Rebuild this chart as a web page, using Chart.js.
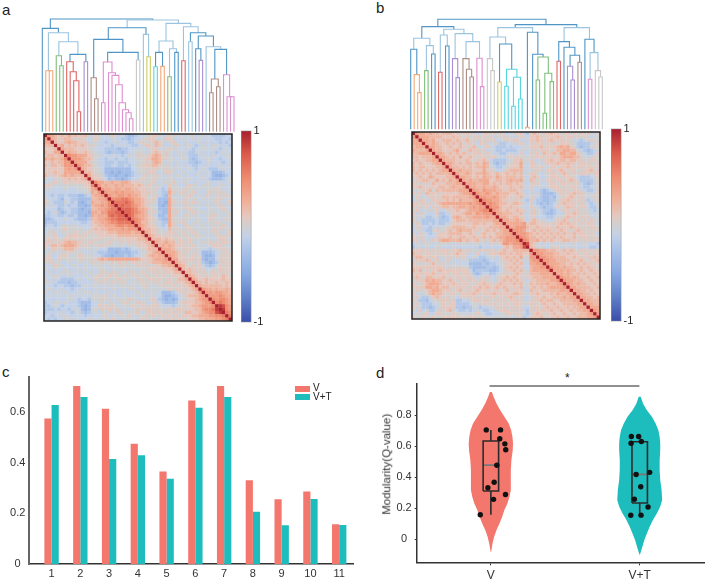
<!DOCTYPE html>
<html>
<head>
<meta charset="utf-8">
<title>Modularity</title>
<script src="https://cdn.jsdelivr.net/npm/chart.js@4/dist/chart.umd.min.js"></script>
<style>
  html, body { margin: 0; background: #fff; }
  #page { position: relative; width: 708px; height: 583px; overflow: hidden; font-family: "Liberation Sans", Arial, sans-serif; color: #222; }
  #page canvas { position: absolute; }
  .txt { position: absolute; white-space: nowrap; line-height: 1; }
  .panel { font-size: 15px; }
  .swatch { position: absolute; width: 15px; height: 5.5px; }
</style>
</head>
<body>
<div id="page">
  <div class="txt panel" style="left:2px;top:2px">a</div>
  <div class="txt panel" style="left:376px;top:0px">b</div>
  <div class="txt panel" style="left:2px;top:364px">c</div>
  <div class="txt panel" style="left:376px;top:365px">d</div>
  <div class="txt" style="left:565px;top:372px;font-size:12px">*</div>
  <div class="txt" style="left:336.7px;top:458.5px;width:100px;text-align:center;font-size:11.5px;color:#333;transform:rotate(-90deg);z-index:2">Modularity(Q-value)</div>
</div>
<script>
// bar heights, one per community
const categories = ["1", "2", "3", "4", "5", "6", "7", "8", "9", "10", "11"];
const groupNames = ["V", "V+T"];
const seriesV = [0.576, 0.704, 0.614, 0.476, 0.366, 0.647, 0.704, 0.331, 0.256, 0.287, 0.157];
const seriesVT = [0.629, 0.661, 0.416, 0.43, 0.337, 0.618, 0.661, 0.207, 0.153, 0.257, 0.154];
const barTicks = [0, 0.2, 0.4, 0.6];
const violinTicks = [0, 0.2, 0.4, 0.6, 0.8];

// violin outlines: density half-width at each level
const levelsV = [0.948, 0.918, 0.875, 0.832, 0.789, 0.746, 0.703, 0.66, 0.617, 0.574, 0.51, 0.445, 0.381, 0.316, 0.273, 0.23, 0.187, 0.144, 0.101, 0.058, 0.015, -0.028, -0.082];
const densityV = [0.007, 0.018, 0.038, 0.062, 0.091, 0.12, 0.136, 0.145, 0.149, 0.147, 0.138, 0.134, 0.134, 0.134, 0.125, 0.111, 0.091, 0.076, 0.058, 0.038, 0.022, 0.011, 0.002];
const levelsVT = [0.918, 0.875, 0.832, 0.789, 0.746, 0.703, 0.66, 0.617, 0.574, 0.51, 0.445, 0.381, 0.316, 0.252, 0.252, 0.21, 0.166, 0.123, 0.08, 0.037, -0.006, -0.049, -0.099];
const densityVT = [0.007, 0.022, 0.047, 0.082, 0.107, 0.125, 0.134, 0.138, 0.138, 0.134, 0.134, 0.138, 0.147, 0.151, 0.151, 0.138, 0.116, 0.089, 0.067, 0.049, 0.031, 0.018, 0.002];

// scatter offsets of the dots, same order as the bars
const jitterV = [0.1, -0.031, 0.094, 0.04, 0.022, 0.06, 0.065, -0.02, 0.018, 0.098, -0.071];
const jitterVT = [0.011, -0.056, -0.024, 0.067, 0.007, -0.058, -0.007, 0.056, -0.06, -0.036, 0.009];

// q1, median, q3, lower whisker, upper whisker
const boxV = [0.31, 0.477, 0.632, 0.157, 0.703];
const boxVT = [0.232, 0.417, 0.628, 0.157, 0.628];
const sigBarX = [0.991, 1.998];
const sigBarY = 0.987;

// dendrograms, node = [height, cluster, left, right], 0 = leaf
const treeA = [112.7, 0,
  [103.3, 0, 0,
    [99, 1,
      [61, 2, 0, [61, 2, 0, 0]],
      [90, 1,
        [76, 3, 0, [66, 3, 0, 0]],
        [77.3, 0,
          [70, 4, 0, [60, 4, 0, [51, 4, 0, [20, 4, 0, 0]]]],
          [70, 5, 0, 0]]]]],
  [111.7, 1,
    [104, 0,
      [92.3, 0,
        [54, 6, 0, [33, 6, 0, 0]],
        [79.3, 0,
          [69.7, 7,
            [29, 7, 0, 0],
            [59, 7, 0, [56.3, 7, 0, [47, 7, 0, [29, 7, 0, [22, 7, 0, [19, 7, 0, [13, 7, 0, 0]]]]]]]],
          [71.7, 8, 0, 0]]],
      [97.3, 1, 0, [75, 9, 0, 0]]],
    [108.3, 1,
      [90.7, 1,
        [79.3, 0, [65, 10, 0, 0], [65.3, 2, 0, 0]],
        [83, 1, [55, 3, 0, 0], [79.3, 0, 0, 0]]],
      [105, 1,
        [71, 4, 0, 0],
        [99, 0,
          [90, 1, 0, 0],
          [95.7, 0,
            [83, 0, 0, [71.3, 5, 0, 0]],
            [85, 1, 0,
              [82.3, 0,
                [52.7, 6, [39, 6, 0, 0], [45, 6, 0, 0]],
                [57, 7, 0, [35, 7, 0, [35, 7, 0, 0]]]]]]]]]]];

const treeB = [110, 0,
  [102.7, 0,
    [91, 1,
      [80, 0, 0, [54.7, 2, 0, [36.7, 2, 0, 0]]],
      [83.7, 1, [58.7, 3, 0, 0], [75.3, 0, 0, 0]]],
    [100, 1,
      [94.3, 1, [57, 4, 0, 0], [83.3, 0, 0, 0]],
      [95.7, 1,
        [70.7, 5, 0, [51.7, 5, 0, 0]],
        [87.7, 1,
          [70.7, 6, 0, [60, 6, 0, [52.3, 6, 0, 0]]],
          [71, 7, 0, [42.7, 7, 0, 0]]]]]],
  [104.7, 0,
    [101.7, 1,
      [92.3, 1,
        [70.7, 8, 0, [58.7, 8, 0, 0]],
        [85.3, 0,
          [47.3, 9, 0, 0],
          [60, 10, [43, 10, 0, 0], [52, 10, [23, 10, 0, 0], [30.3, 10, 0, 0]]]]],
      [97, 0,
        [2, 2, 0, 0],
        [75, 0, 0,
          [72.3, 3,
            [49.3, 3, 0, 0],
            [56, 3, [16, 3, 0, 0], [47.7, 3, 0, 0]]]]]],
    [101.7, 1,
      [87.7, 0,
        [68, 4, 0, 0],
        [82, 0, 0,
          [74, 0,
            [63, 5, 0, [49.3, 5, 0, 0]],
            [67, 6, 0, 0]]]],
      [90, 0, 0,
        [76.7, 1,
          [50, 7, 0, 0],
          [58.7, 8, 0, [52.3, 8, 0, 0]]]]]]];

// correlation x10, upper triangle without the diagonal, one row per community
const upperA = [
  [4,3,2,1,2,1,3,1,2,1,1,2,0,-1,1,0,-1,-1,0,1,0,-1,-1,-2,-3,-3,-2,-1,-1,0,0,1,1,0,-1,0,1,0,-1,0,-1,-1,0,0,-1,-1,0,-1,-1,-2,-2,-2,-2,-1,-1],
  [3,2,1,1,2,2,1,0,1,1,0,-1,0,1,0,-1,-1,-1,0,-1,-1,-2,-2,-3,-2,-1,-1,0,0,1,1,0,-1,0,1,1,0,-1,-1,0,-1,-1,0,-1,0,-1,-1,-1,-1,-2,-2,-1,-1,-2],
  [2,1,1,2,3,2,2,1,1,1,-1,0,0,-1,-1,-2,-1,-1,0,-1,-1,-1,-2,-2,-1,0,1,0,0,1,2,1,0,-1,0,1,0,-1,-1,0,-1,-1,-1,0,-1,0,-1,-1,-1,-2,-1,-2,-1],
  [2,3,1,2,1,2,1,2,1,0,1,0,-1,-1,-1,-1,-2,-1,-1,0,-1,-1,-2,-2,-1,0,1,1,0,2,1,0,-1,-1,0,1,0,-1,0,0,-1,-2,-1,0,-1,-1,0,0,-1,-1,-1,-2],
  [3,2,2,2,1,1,1,1,0,0,-1,-1,-1,-2,-2,-2,-2,-3,-2,-2,-1,-1,-1,0,-1,-1,0,1,1,0,-1,0,1,0,0,-1,-1,0,-1,-2,-1,-1,0,0,-1,0,-1,-2,-1,0,-1],
  [2,3,2,2,1,1,2,1,0,0,-1,-1,-2,-3,-2,-2,-2,-3,-2,-1,-1,0,0,0,-1,0,1,2,1,0,1,0,-1,0,-1,0,-1,-2,-2,-1,0,-1,-1,-1,-1,-2,-1,0,-1,-1],
  [5,4,4,3,3,3,1,1,0,0,-1,-1,-1,0,-1,-1,-2,-1,0,-1,0,1,0,0,1,2,3,2,0,1,0,-1,-1,0,0,-1,-2,-2,-2,-1,0,-1,-1,0,-1,-1,-1,0,0],
  [4,4,4,3,2,2,1,0,-1,-1,-2,-1,-1,-2,-1,-1,-2,-1,-1,0,0,0,1,1,3,3,2,1,0,0,0,-1,-1,0,0,-2,-3,-2,-1,-1,0,0,-1,-1,-2,-1,-1,0],
  [4,3,3,3,1,0,0,-1,-1,-2,-2,-2,-1,-2,-2,-2,-1,-1,-1,0,0,1,0,2,3,2,0,-1,0,-1,0,-1,-1,-1,-2,-2,-3,-2,-1,-1,0,-1,-1,-1,-2,-1,-1],
  [4,3,2,2,1,0,-1,-1,-2,-2,-1,-1,-2,-2,-1,-2,-1,0,0,1,1,1,2,2,1,0,0,0,-1,0,-1,0,-1,-1,-2,-2,-1,-1,0,-1,-1,-1,0,-1,-1,0],
  [3,2,1,1,0,0,-1,-3,-3,-3,-3,-3,-3,-3,-3,-1,-1,0,0,1,0,1,1,0,0,1,0,0,-1,0,-1,-1,0,-1,-2,-1,0,-1,-2,-2,-2,-1,0,-1,-1],
  [2,2,1,0,0,-1,-3,-3,-4,-3,-4,-3,-3,-3,-2,-1,0,0,0,1,1,0,-1,0,1,1,0,-1,-1,0,-1,-1,-1,-1,0,-1,0,-1,-3,-3,-3,-2,-1,-1],
  [3,1,1,0,0,-2,-3,-3,-4,-3,-3,-4,-3,-2,-1,-1,0,1,0,0,1,0,-1,0,0,-1,0,0,-1,0,-1,-1,0,-1,0,-1,-1,-3,-4,-4,-3,-2,-1],
  [2,1,1,0,-1,-3,-2,-3,-3,-4,-3,-2,-1,-1,0,1,0,0,1,0,0,-1,0,0,0,-1,-1,0,-1,0,-1,-1,-1,0,-1,-2,-3,-3,-3,-2,-1,0],
  [5,3,3,2,2,3,2,2,3,3,2,1,1,1,0,0,0,1,0,-1,0,0,0,1,0,-1,0,0,-1,-1,0,-1,-1,0,0,-1,-1,0,-1,-1,0],
  [4,2,3,2,2,3,2,3,2,2,2,1,2,1,0,1,0,0,0,-1,-1,1,0,0,-1,-1,0,1,0,0,-1,0,0,0,-1,-1,0,0,-1,-1],
  [4,3,3,2,3,3,2,3,3,2,2,1,1,1,0,0,1,-1,-2,-1,2,0,0,0,0,1,0,0,-1,0,-1,0,0,0,1,0,-1,-1,0],
  [4,3,3,4,3,4,3,3,3,2,2,1,1,1,0,0,-1,-2,-2,3,1,0,0,1,0,0,1,0,-1,-1,0,1,0,0,1,0,0,-1],
  [4,3,3,4,4,3,4,3,3,2,1,1,0,0,1,-1,-2,-3,2,0,-1,0,0,0,1,0,-1,0,-1,1,0,-1,1,0,0,1,0],
  [5,5,5,6,6,5,4,3,3,2,1,0,1,0,-3,-3,-3,3,0,0,-1,0,1,0,0,0,-1,0,-1,0,0,0,1,0,-1,0],
  [6,6,6,7,6,5,3,3,2,1,1,0,0,-3,-3,-4,3,1,0,0,1,0,0,1,0,0,-1,0,-1,0,1,0,-1,0,1],
  [6,7,6,6,5,4,3,2,1,0,0,-1,-3,-4,-3,3,0,0,-1,0,1,0,0,-1,0,-1,0,0,-1,0,1,0,-1,0],
  [7,7,7,6,5,3,3,2,1,0,0,-3,-3,-3,3,1,0,0,0,0,1,0,0,-1,-1,-1,0,0,-1,0,1,0,-1],
  [7,7,6,5,4,3,2,0,1,0,-2,-3,-3,3,0,1,0,-1,0,0,1,0,0,0,-1,0,0,0,-1,0,0,0],
  [7,6,4,3,3,2,1,0,-1,-3,-3,-2,3,1,0,-1,0,1,0,0,0,-1,-1,0,0,1,0,0,-1,0,0],
  [6,5,4,3,2,1,1,0,-2,-3,-3,3,0,0,0,0,0,0,-1,0,0,-1,-1,1,0,0,-1,0,1,0],
  [5,4,2,2,1,0,0,-1,-2,-2,3,1,0,0,1,0,-1,0,0,0,-1,0,0,0,1,0,0,-1,0],
  [4,3,2,1,1,0,-1,-2,-1,3,1,0,-1,0,1,0,0,-1,0,0,-1,0,0,0,0,1,0,-1],
  [3,2,2,1,1,0,-1,-1,2,0,1,0,0,0,1,0,0,-1,0,0,-1,1,0,1,0,0,0],
  [3,2,1,1,0,0,0,1,1,0,0,1,0,0,1,0,0,-1,0,0,0,1,0,-1,0,1],
  [3,2,1,1,0,1,1,0,1,0,0,1,0,0,1,0,0,-1,-1,0,0,1,0,1,0],
  [2,2,2,1,2,1,1,0,1,0,0,1,0,0,0,-1,0,0,-1,0,1,1,0,0],
  [3,2,2,3,2,2,0,1,1,0,1,0,-1,0,0,0,1,0,1,0,1,1,0],
  [2,3,2,3,2,1,1,0,1,0,1,0,-1,0,-1,0,1,1,1,0,0,-1],
  [3,3,3,2,1,0,1,0,1,0,0,0,-1,-1,-2,-1,0,0,1,0,0],
  [3,3,3,2,1,0,1,0,0,1,-1,-3,-3,-3,-2,-1,0,0,1,0],
  [4,3,2,1,1,0,0,1,0,0,-3,-4,-4,-3,-1,0,1,0,1],
  [3,3,1,1,0,1,1,0,1,-3,-4,-3,-3,-1,1,0,1,0],
  [3,2,1,1,0,0,1,0,-2,-3,-4,-3,-2,0,1,0,1],
  [3,2,1,0,1,0,1,-1,-2,-3,-2,-1,1,0,1,0],
  [2,1,2,1,0,1,0,-1,-1,0,0,1,1,0,1],
  [2,2,1,1,0,1,0,0,1,0,1,0,1,0],
  [3,2,1,1,0,1,0,1,1,0,2,1,0],
  [3,2,1,1,2,1,1,1,1,2,1,1],
  [3,2,1,2,1,1,2,1,1,2,1],
  [3,2,2,2,2,2,2,1,2,1],
  [4,3,3,2,3,2,2,3,2],
  [4,4,3,4,4,3,3,2],
  [4,4,4,5,4,3,3],
  [5,4,5,5,4,3],
  [5,6,5,4,3],
  [9,8,5,4],
  [9,5,4],
  [6,5],
  [6]
];

const upperB = [
  [4,3,3,2,3,2,2,1,2,2,2,1,1,0,1,1,0,1,-1,-1,1,1,0,1,0,1,0,-1,-1,0,1,1,-1,-2,1,2,1,0,1,1,2,1,1,0,1,1,0,1,0,1,0,1,0,-1,1],
  [3,3,3,2,2,2,2,1,1,1,2,1,1,0,1,0,0,1,0,1,0,1,-1,0,0,1,0,0,-1,0,1,0,-1,1,1,2,1,0,1,1,1,2,1,0,1,1,0,1,0,1,0,-1,0,0],
  [3,3,2,3,1,1,2,2,2,1,2,1,1,2,0,1,0,1,0,1,0,1,-1,-1,0,1,0,1,1,-1,-1,0,1,1,2,1,0,1,2,1,1,1,0,1,0,-1,-1,-2,-1,0,1,0],
  [3,2,3,2,1,1,2,1,2,1,2,0,1,1,0,-1,1,1,0,-1,0,0,-2,-2,-1,-1,0,0,1,0,-1,1,0,1,1,0,1,0,1,0,1,1,1,0,0,-2,-2,-2,-2,-1,0,1],
  [3,3,2,2,1,1,2,1,1,2,1,0,1,2,0,-1,0,1,0,-1,-2,-2,-2,-1,-2,-1,-1,-1,0,0,1,1,1,2,0,1,1,1,2,3,2,3,1,0,-2,-3,-2,-2,0,1],
  [3,2,2,1,1,1,2,3,1,0,1,2,1,1,0,1,-1,0,-1,-2,-2,-1,-2,-2,-2,-1,0,0,-1,0,1,0,1,1,1,0,1,2,2,3,3,2,2,0,-1,-2,-3,-2,-1,0],
  [3,3,2,1,2,1,2,1,2,1,0,1,1,1,0,1,0,-1,-1,-2,-2,-1,0,-1,-1,1,-1,-1,1,0,1,0,2,1,1,2,1,3,3,2,3,3,1,0,-1,-2,-2,-1,1],
  [3,3,2,1,2,1,3,1,1,2,1,0,1,1,0,1,1,0,-1,-1,0,1,0,1,0,0,0,0,1,1,1,0,1,1,0,1,2,3,3,3,2,2,0,0,-1,0,1,0],
  [3,2,2,2,1,1,1,2,1,0,1,1,2,1,-1,-2,-2,-2,-2,-1,0,1,1,2,0,0,1,0,-1,0,1,1,2,1,1,2,2,1,2,2,1,1,0,0,1,1,0],
  [3,3,2,1,2,1,2,2,1,2,1,3,2,-1,-2,-3,-2,-2,0,0,1,1,3,0,-1,1,1,0,-1,0,1,1,1,2,1,1,2,1,1,0,1,1,1,0,0,1],
  [3,2,2,1,2,1,2,1,2,2,3,2,0,-1,-2,-2,-1,0,1,1,1,3,0,-1,1,1,0,1,0,-1,1,1,0,1,1,2,1,0,1,1,0,1,1,0,1],
  [3,2,3,2,2,2,1,1,1,3,1,1,0,-1,-1,0,1,2,2,2,2,0,-1,0,0,1,0,-1,1,1,0,1,2,1,0,1,1,0,0,1,1,2,0,1],
  [3,2,2,3,2,1,2,2,3,2,1,1,2,1,1,2,1,2,1,2,-1,0,1,1,0,-1,0,0,1,1,0,1,2,1,0,1,0,1,1,1,0,1,1],
  [3,3,2,2,1,2,1,3,2,2,1,3,2,1,2,2,2,1,2,0,-1,1,2,1,-1,-1,0,1,1,1,0,1,1,1,0,-1,-2,-2,-2,-1,0,1],
  [3,2,3,2,2,3,3,3,1,1,2,2,1,2,3,2,2,3,0,-1,2,1,0,0,-1,1,1,0,1,1,0,1,2,1,0,-2,-2,-2,-2,0,0],
  [3,3,3,2,2,3,3,1,2,1,2,1,2,2,1,2,1,0,-1,0,1,1,-1,-1,0,1,1,0,1,1,1,0,1,1,-1,-2,-3,-2,-1,1],
  [3,3,2,2,3,2,2,3,2,1,1,1,2,1,1,2,0,-1,1,0,-1,0,-1,0,1,1,1,0,1,0,1,1,0,-1,-2,-2,-1,0,0],
  [4,3,2,4,3,3,3,2,2,1,1,2,2,1,1,-1,-1,0,-1,-1,-2,-3,-2,-1,0,1,1,0,1,0,1,1,0,-1,-2,-2,-1,1],
  [4,3,3,4,3,2,3,2,2,2,1,1,2,1,0,-1,0,-1,0,-2,-3,-3,-3,-2,0,1,0,1,1,2,1,1,0,0,-1,0,1],
  [4,4,3,3,4,3,2,2,1,1,0,1,2,0,-1,0,1,-1,-2,-3,-3,-2,-3,-1,0,1,1,2,1,0,1,0,-1,0,1,0],
  [5,4,4,3,3,2,1,1,0,1,1,0,-1,-2,1,-1,-2,-2,-3,-3,-2,-2,0,1,1,2,1,0,1,0,1,-2,-1,0,1],
  [4,5,4,3,2,2,1,1,2,2,1,0,-1,0,-1,-2,-3,-2,-3,-2,-1,0,1,2,1,1,1,0,1,0,-1,-2,-1,0],
  [5,4,4,2,1,1,2,1,1,0,-1,-1,1,0,-1,-2,-3,-2,-2,-1,1,0,1,2,1,1,0,1,1,-1,-2,-2,0],
  [4,3,2,1,2,1,1,2,1,1,-1,0,1,0,-1,-2,-2,-3,-2,-1,0,1,1,0,1,1,0,0,0,-1,-2,-1],
  [3,3,2,2,2,1,1,2,0,-1,1,1,0,-1,-2,-3,-3,-2,-1,-1,0,1,1,2,1,0,1,0,-1,-1,0],
  [3,3,2,1,2,2,1,0,-1,0,1,-1,-1,-1,-2,-2,-1,0,0,1,2,1,1,0,1,0,1,0,-1,0],
  [3,3,2,2,3,2,1,-1,1,2,1,0,0,-1,-1,0,1,1,2,1,0,1,1,0,1,0,1,0,0],
  [3,3,3,3,3,4,1,2,2,1,1,0,1,0,1,1,2,1,2,1,1,0,1,0,1,1,0,-1],
  [3,3,4,4,4,2,1,1,2,1,1,1,1,0,2,1,1,1,2,1,1,0,1,0,1,1,0],
  [4,4,4,3,1,1,2,1,2,1,2,1,1,1,2,1,1,0,1,2,1,0,1,0,1,0],
  [4,4,4,3,2,1,2,1,2,1,2,1,2,1,2,1,1,2,1,1,1,0,1,0,-1],
  [5,4,3,2,2,1,2,1,2,1,2,1,2,1,1,1,2,0,1,1,1,0,1,0],
  [5,4,2,2,3,1,2,1,2,1,1,1,2,2,1,1,1,0,1,0,1,0,1],
  [8,2,1,0,-1,0,-1,0,0,-1,0,0,-1,0,0,-1,0,0,-1,-1,-1,-2],
  [2,1,0,0,-1,-1,0,0,1,-1,0,0,-1,0,-1,-1,0,-1,-2,-2,-1],
  [4,4,3,3,2,2,2,1,1,2,1,2,1,0,1,1,0,1,0,1],
  [4,4,3,3,3,2,2,1,1,2,1,1,1,0,1,1,0,1,1],
  [4,4,3,3,2,2,2,2,1,1,2,1,1,0,1,1,2,1],
  [4,4,3,3,2,2,2,2,1,1,1,2,1,0,1,1,2],
  [4,3,3,3,2,2,1,2,1,2,1,2,1,1,0,1],
  [4,3,3,2,3,2,2,1,1,2,1,2,1,1,0],
  [3,3,3,2,3,2,2,1,2,1,1,2,1,1],
  [3,3,2,3,2,1,2,1,2,1,1,2,1],
  [4,3,3,2,3,2,1,1,2,1,1,2],
  [4,3,3,2,2,2,1,1,2,1,1],
  [4,3,2,3,2,2,1,1,2,1],
  [3,3,2,2,2,2,1,1,2],
  [3,3,2,2,1,2,1,1],
  [3,3,2,2,1,2,1],
  [3,3,2,2,1,2],
  [3,3,2,2,2],
  [3,3,2,2],
  [3,3,3],
  [4,3],
  [4]
];

// colour key of the heatmaps
const keyValues = [-1, -0.75, -0.5, -0.25, -0.1, 0, 0.1, 0.25, 0.5, 0.75, 1];
const keyColors = [[58, 77, 168], [95, 127, 200], [135, 168, 226], [170, 194, 232], [196, 209, 230], [208, 208, 208], [228, 200, 192], [240, 178, 155], [238, 140, 112], [220, 91, 74], [166, 32, 46]];
const clusterColors = ["#4f96c6", "#9bc4e0", "#f5a878", "#7fbf7b", "#e06666", "#a98fd0", "#ab8e85", "#dd8fcf", "#c8c8c8", "#cccc66", "#55d5dd"];

const colorV = "#f4776e";
const colorVT = "#1dbcbd";
const leafCount = 56;

Chart.defaults.font.family = '"Liberation Sans", Arial, sans-serif';
Chart.defaults.animation = false;
Chart.defaults.responsive = false;
Chart.defaults.plugins.legend.display = false;
Chart.defaults.plugins.tooltip.enabled = false;

const page = document.getElementById("page");

function addCanvas(left, top, width, height) {
  const c = document.createElement("canvas");
  c.width = width;
  c.height = height;
  c.style.left = left + "px";
  c.style.top = top + "px";
  page.appendChild(c);
  return c.getContext("2d");
}

function addText(text, left, top, size) {
  const d = document.createElement("div");
  d.className = "txt";
  d.textContent = text;
  d.style.left = left + "px";
  d.style.top = top + "px";
  d.style.fontSize = size + "px";
  page.appendChild(d);
}

//walks the tree, every leaf takes the next slot and a parent sits between its children
function treeLinks(tree) {
  let next = 0;
  const links = [];
  function walk(node) {
    if (node === 0) return { x: next++, y: 0 };
    const [h, cluster, left, right] = node;
    const a = walk(left);
    const b = walk(right);
    links.push({ cluster, points: [{ x: a.x, y: a.y }, { x: a.x, y: h }, { x: b.x, y: h }, { x: b.x, y: b.y }] });
    return { x: (a.x + b.x) / 2, y: h };
  }
  walk(tree);
  return links;
}

function drawTree(tree, left, top, xRange, yRange) {
  new Chart(addCanvas(left, top, 199, 120), {
    type: "scatter",
    data: {
      datasets: treeLinks(tree).map((link) => ({
        data: link.points,
        showLine: true,
        pointRadius: 0,
        borderWidth: 1.1,
        borderColor: clusterColors[link.cluster],
        clip: false,
      })),
    },
    options: {
      scales: {
        x: { display: false, min: xRange[0], max: xRange[1] },
        y: { display: false, min: yRange[0], max: yRange[1] },
      },
    },
  });
}

function keyColor(v) {
  let i = 0;
  while (i < keyValues.length - 2 && v > keyValues[i + 1]) i++;
  const t = (v - keyValues[i]) / (keyValues[i + 1] - keyValues[i]);
  const rgb = keyColors[i].map((c, n) => Math.round(c + (keyColors[i + 1][n] - c) * t));
  return "rgb(" + rgb.join(",") + ")";
}

const boxFrame = {
  id: "boxFrame",
  afterDraw(chart) {
    const { ctx, chartArea: a } = chart;
    ctx.save();
    ctx.strokeStyle = "#222";
    ctx.lineWidth = 1.5;
    ctx.strokeRect(a.left, a.top, a.right - a.left, a.bottom - a.top);
    ctx.restore();
  },
};

function drawHeatmap(upper, left, top, width, height) {
  const cells = [];
  for (let row = 0; row < leafCount; row++) {
    for (let col = 0; col < leafCount; col++) {
      const a = Math.min(row, col);
      const b = Math.max(row, col);
      const v = a === b ? 1 : (upper[a][b - a - 1] ?? 0) / 10;
      cells.push({ x: col, y: row, v });
    }
  }
  const size = width / leafCount;
  new Chart(addCanvas(left - 2, top - 2, width + 4, height + 4), {
    type: "scatter",
    data: {
      datasets: [
        {
          data: cells,
          pointStyle: "rect",
          pointRadius: size / Math.SQRT2 + 0.15,
          pointBorderWidth: 0,
          backgroundColor: cells.map((c) => keyColor(c.v)),
        },
      ],
    },
    options: {
      layout: { padding: 2 },
      scales: {
        x: { display: false, min: -0.5, max: leafCount - 0.5 },
        y: { display: false, reverse: true, min: -0.5, max: leafCount - 0.5 },
      },
    },
    plugins: [boxFrame],
  });
}

function drawColorKey(left, top, height) {
  new Chart(addCanvas(left, top - 8, 30, height + 16), {
    type: "bar",
    data: {
      labels: [""],
      datasets: [
        {
          data: [[keyValues[0], keyValues[keyValues.length - 1]]],
          barPercentage: 1,
          categoryPercentage: 1,
          borderWidth: 1,
          borderColor: "#8a8a8a",
          borderSkipped: false,
          backgroundColor(context) {
            const a = context.chart.chartArea;
            if (!a) return "#ccc";
            const g = context.chart.ctx.createLinearGradient(0, a.bottom, 0, a.top);
            keyValues.forEach((v, i) => {
              g.addColorStop((v + 1) / 2, "rgb(" + keyColors[i].join(",") + ")");
            });
            return g;
          },
        },
      ],
    },
    options: {
      layout: { padding: { top: 8, bottom: 8, left: 1, right: 0 } },
      scales: {
        x: { display: false },
        y: {
          position: "right",
          min: -1,
          max: 1,
          afterBuildTicks(scale) {
            scale.ticks = [{ value: -1 }, { value: 1 }];
          },
          afterFit(scale) {
            scale.width = 18.5;
          },
          grid: { display: false, drawTicks: false },
          border: { display: false },
          ticks: { padding: 2, color: "#222", font: { size: 11 } },
        },
      },
    },
  });
}

//heatmaps with their dendrograms and colour keys
drawTree(treeA, 39, 12, [-0.947, 56.15], [-0.3, 119.7]);
drawTree(treeB, 407, 10, [-1.06, 56.06], [-0.7, 119.3]);
drawHeatmap(upperA, 42, 132, 192, 191);
drawHeatmap(upperB, 410, 130, 192, 191);
drawColorKey(240, 130, 193);
drawColorKey(610, 128, 194);

//bar chart
new Chart(addCanvas(0, 365, 360, 218), {
  type: "bar",
  data: {
    datasets: [
      { label: groupNames[0], data: seriesV.map((v, i) => ({ x: i + 1, y: v })), backgroundColor: colorV },
      { label: groupNames[1], data: seriesVT.map((v, i) => ({ x: i + 1, y: v })), backgroundColor: colorVT },
    ],
  },
  options: {
    barPercentage: 1,
    categoryPercentage: 0.5,
    layout: { padding: { top: 12, right: 7, left: 0, bottom: 0 } },
    scales: {
      x: {
        type: "linear",
        offset: false,
        min: 0.226,
        max: 11.48,
        afterBuildTicks(scale) {
          scale.ticks = categories.map((c, i) => ({ value: i + 1 }));
        },
        afterFit(scale) {
          scale.height = 19;
        },
        grid: { display: false, drawTicks: false },
        border: { color: "#333", width: 1.5 },
        ticks: {
          padding: 3,
          color: "#333",
          font: { size: 11 },
          autoSkip: false,
          maxRotation: 0,
          callback: (v) => categories[v - 1],
        },
      },
      y: {
        min: 0,
        max: 0.74,
        afterBuildTicks(scale) {
          scale.ticks = barTicks.map((value) => ({ value }));
        },
        afterFit(scale) {
          scale.width = 29.3;
        },
        grid: { display: false, drawTicks: false },
        border: { color: "#666", width: 2 },
        ticks: { padding: 4, crossAlign: "center", color: "#333", font: { size: 11 }, callback: (v) => String(v) },
      },
    },
  },
});

//legend of the bar chart
[colorV, colorVT].forEach((color, i) => {
  const s = document.createElement("div");
  s.className = "swatch";
  s.style.left = "295px";
  s.style.top = 386 + i * 8 + "px";
  s.style.background = color;
  page.appendChild(s);
  addText(groupNames[i], 313, 383 + i * 9, 10);
});

//violin outline: down the right side, back up the left side
function violinOutline(center, levels, density) {
  const right = levels.map((y, i) => ({ x: center + density[i], y }));
  const left = levels.map((y, i) => ({ x: center - density[i], y })).reverse();
  return right.concat(left);
}

function boxLines(center, box) {
  const [q1, median, q3, low, high] = box;
  const w = 0.052;
  const base = { showLine: true, pointRadius: 0, borderColor: "#2b2b2b", borderWidth: 1.6, order: 2 };
  return [
    {
      ...base,
      data: [
        { x: center - w, y: q1 },
        { x: center + w, y: q1 },
        { x: center + w, y: q3 },
        { x: center - w, y: q3 },
        { x: center - w, y: q1 },
      ],
    },
    { ...base, data: [{ x: center, y: q1 }, { x: center, y: low }] },
    { ...base, data: [{ x: center, y: q3 }, { x: center, y: high }] },
    { ...base, borderColor: "#777", data: [{ x: center - w, y: median }, { x: center + w, y: median }] },
  ];
}

function dots(center, jitter, values) {
  return {
    data: values.map((y, i) => ({ x: center + jitter[i], y })),
    pointRadius: 2.7,
    pointBorderWidth: 0,
    backgroundColor: "#111",
    order: 1,
  };
}

//fills the closed outline of a violin from its parsed points
const violinFill = {
  id: "violinFill",
  beforeDatasetDraw(chart, args) {
    const color = chart.data.datasets[args.index].violinColor;
    if (!color) return;
    const { ctx } = chart;
    ctx.save();
    ctx.fillStyle = color;
    ctx.beginPath();
    args.meta.data.forEach((p, i) => (i ? ctx.lineTo(p.x, p.y) : ctx.moveTo(p.x, p.y)));
    ctx.closePath();
    ctx.fill();
    ctx.restore();
  },
};

//violin chart
new Chart(addCanvas(372, 368, 336, 215), {
  type: "scatter",
  data: {
    datasets: [
      dots(1, jitterV, seriesV),
      dots(2, jitterVT, seriesVT),
      ...boxLines(1, boxV),
      ...boxLines(2, boxVT),
      {
        data: sigBarX.map((x) => ({ x, y: sigBarY })),
        showLine: true,
        pointRadius: 0,
        borderColor: "#222",
        borderWidth: 1.2,
        order: 2,
      },
      { data: violinOutline(1, levelsV, densityV), violinColor: colorV, pointRadius: 0, order: 3 },
      { data: violinOutline(2, levelsVT, densityVT), violinColor: colorVT, pointRadius: 0, order: 3 },
    ],
  },
  options: {
    layout: { padding: { top: 16, right: 2.3, left: 0, bottom: 0 } },
    scales: {
      x: {
        min: 0.5017,
        max: 2.432,
        afterBuildTicks(scale) {
          scale.ticks = [{ value: 1 }, { value: 2 }];
        },
        afterFit(scale) {
          scale.height = 20.7;
        },
        grid: { drawOnChartArea: false, tickLength: 3, color: "#333" },
        border: { color: "#333", width: 1.5 },
        ticks: { padding: 3, color: "#333", font: { size: 12 }, callback: (v) => groupNames[v - 1] },
      },
      y: {
        min: -0.15,
        max: 1,
        afterBuildTicks(scale) {
          scale.ticks = violinTicks.map((value) => ({ value }));
        },
        afterFit(scale) {
          scale.width = 44.7;
        },
        grid: { drawOnChartArea: false, tickLength: 2, color: "#333" },
        border: { color: "#333", width: 1.5 },
        ticks: { padding: 3, crossAlign: "center", color: "#333", font: { size: 11 }, callback: (v) => String(v) },
      },
    },
  },
  plugins: [violinFill],
});
</script>
</body>
</html>
